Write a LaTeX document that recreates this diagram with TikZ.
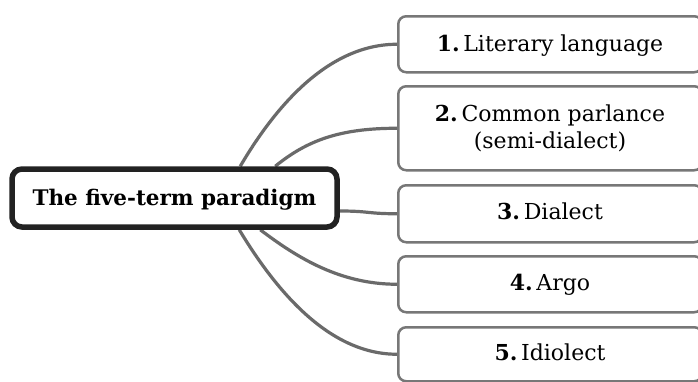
\documentclass[tikz,border=0pt]{standalone}
\usepackage{fontspec}
\setmainfont{DejaVu Serif}
\usetikzlibrary{calc,backgrounds}
\definecolor{linegray}{HTML}{6A6A6A}
\definecolor{boxgray}{HTML}{777777}
\definecolor{darkbox}{HTML}{222222}
\tikzset{
  conn/.style={draw=linegray, line width=3.2pt},
  leaf/.style={draw=boxgray, line width=2.5pt, rounded corners=8pt, fill=white,
    minimum width=304pt, inner sep=0pt, anchor=north west},
  root/.style={draw=darkbox, line width=5.5pt, rounded corners=10pt, fill=white,
    minimum width=325pt, minimum height=58pt, inner sep=0pt},
  lbl/.style={font=\fontsize{22}{27}\selectfont, anchor=base, inner sep=0pt, align=center},
  rootlbl/.style={font=\bfseries\fontsize{21.5}{24}\selectfont, anchor=base, inner sep=0pt}
}
\begin{document}
\begin{tikzpicture}[x=1pt,y=-1pt]
\useasboundingbox (0,0) rectangle (698,381);
\begin{scope}
\clip (0,0) rectangle (698,381);
% central node
\node[root] (c) at (174.5,198) {};
\node[rootlbl] (ct) at (174.5,205) {The five-term paradigm};
% leaf boxes
\node[leaf, minimum height=56pt] (b1) at (397,15) {};
\node[leaf, minimum height=84pt] (b2) at (397,85) {};
\node[leaf, minimum height=57pt] (b3) at (397,184) {};
\node[leaf, minimum height=56pt] (b4) at (397,255) {};
\node[leaf, minimum height=54pt] (b5) at (397,326) {};
% labels
\node[lbl] (t1) at (550,51) {\textbf{1.}\,Literary language};
\node[lbl] (t2) at (550,148) {\textbf{2.}\,Common parlance\\(semi-dialect)};
\node[lbl] (t3) at (550,219) {\textbf{3.}\,Dialect};
\node[lbl] (t4) at (550,290) {\textbf{4.}\,Argo};
\node[lbl] (t5) at (550,360) {\textbf{5.}\,Idiolect};
% connectors
\begin{scope}[on background layer]
\fill[white] (0,0) rectangle (698,381);
\coordinate (s1) at ($(c.north west)+(231,0)$);
\coordinate (s2) at ($(c.north west)+(266,0)$);
\coordinate (s3) at ($(c.east)+(0,13)$);
\coordinate (s4) at ($(c.south west)+(251,0)$);
\coordinate (s5) at ($(c.south west)+(230,0)$);
\draw[conn] (s1) .. controls ($(s1)+(37,-63)$) and ($(b1.west)+(-67,0)$) .. (b1.west);
\draw[conn] (s2) .. controls ($(s2)+(32,-26)$) and ($(b2.west)+(-57,0)$) .. (b2.west);
\draw[conn] (s3) .. controls ($(s3)+(30,0)$) and ($(b3.west)+(-30,0)$) .. (b3.west);
\draw[conn] (s4) .. controls ($(s4)+(37,28)$) and ($(b4.west)+(-57,0)$) .. (b4.west);
\draw[conn] (s5) .. controls ($(s5)+(38,63)$) and ($(b5.west)+(-67,0)$) .. (b5.west);
\end{scope}
\end{scope}
\end{tikzpicture}
\end{document}
